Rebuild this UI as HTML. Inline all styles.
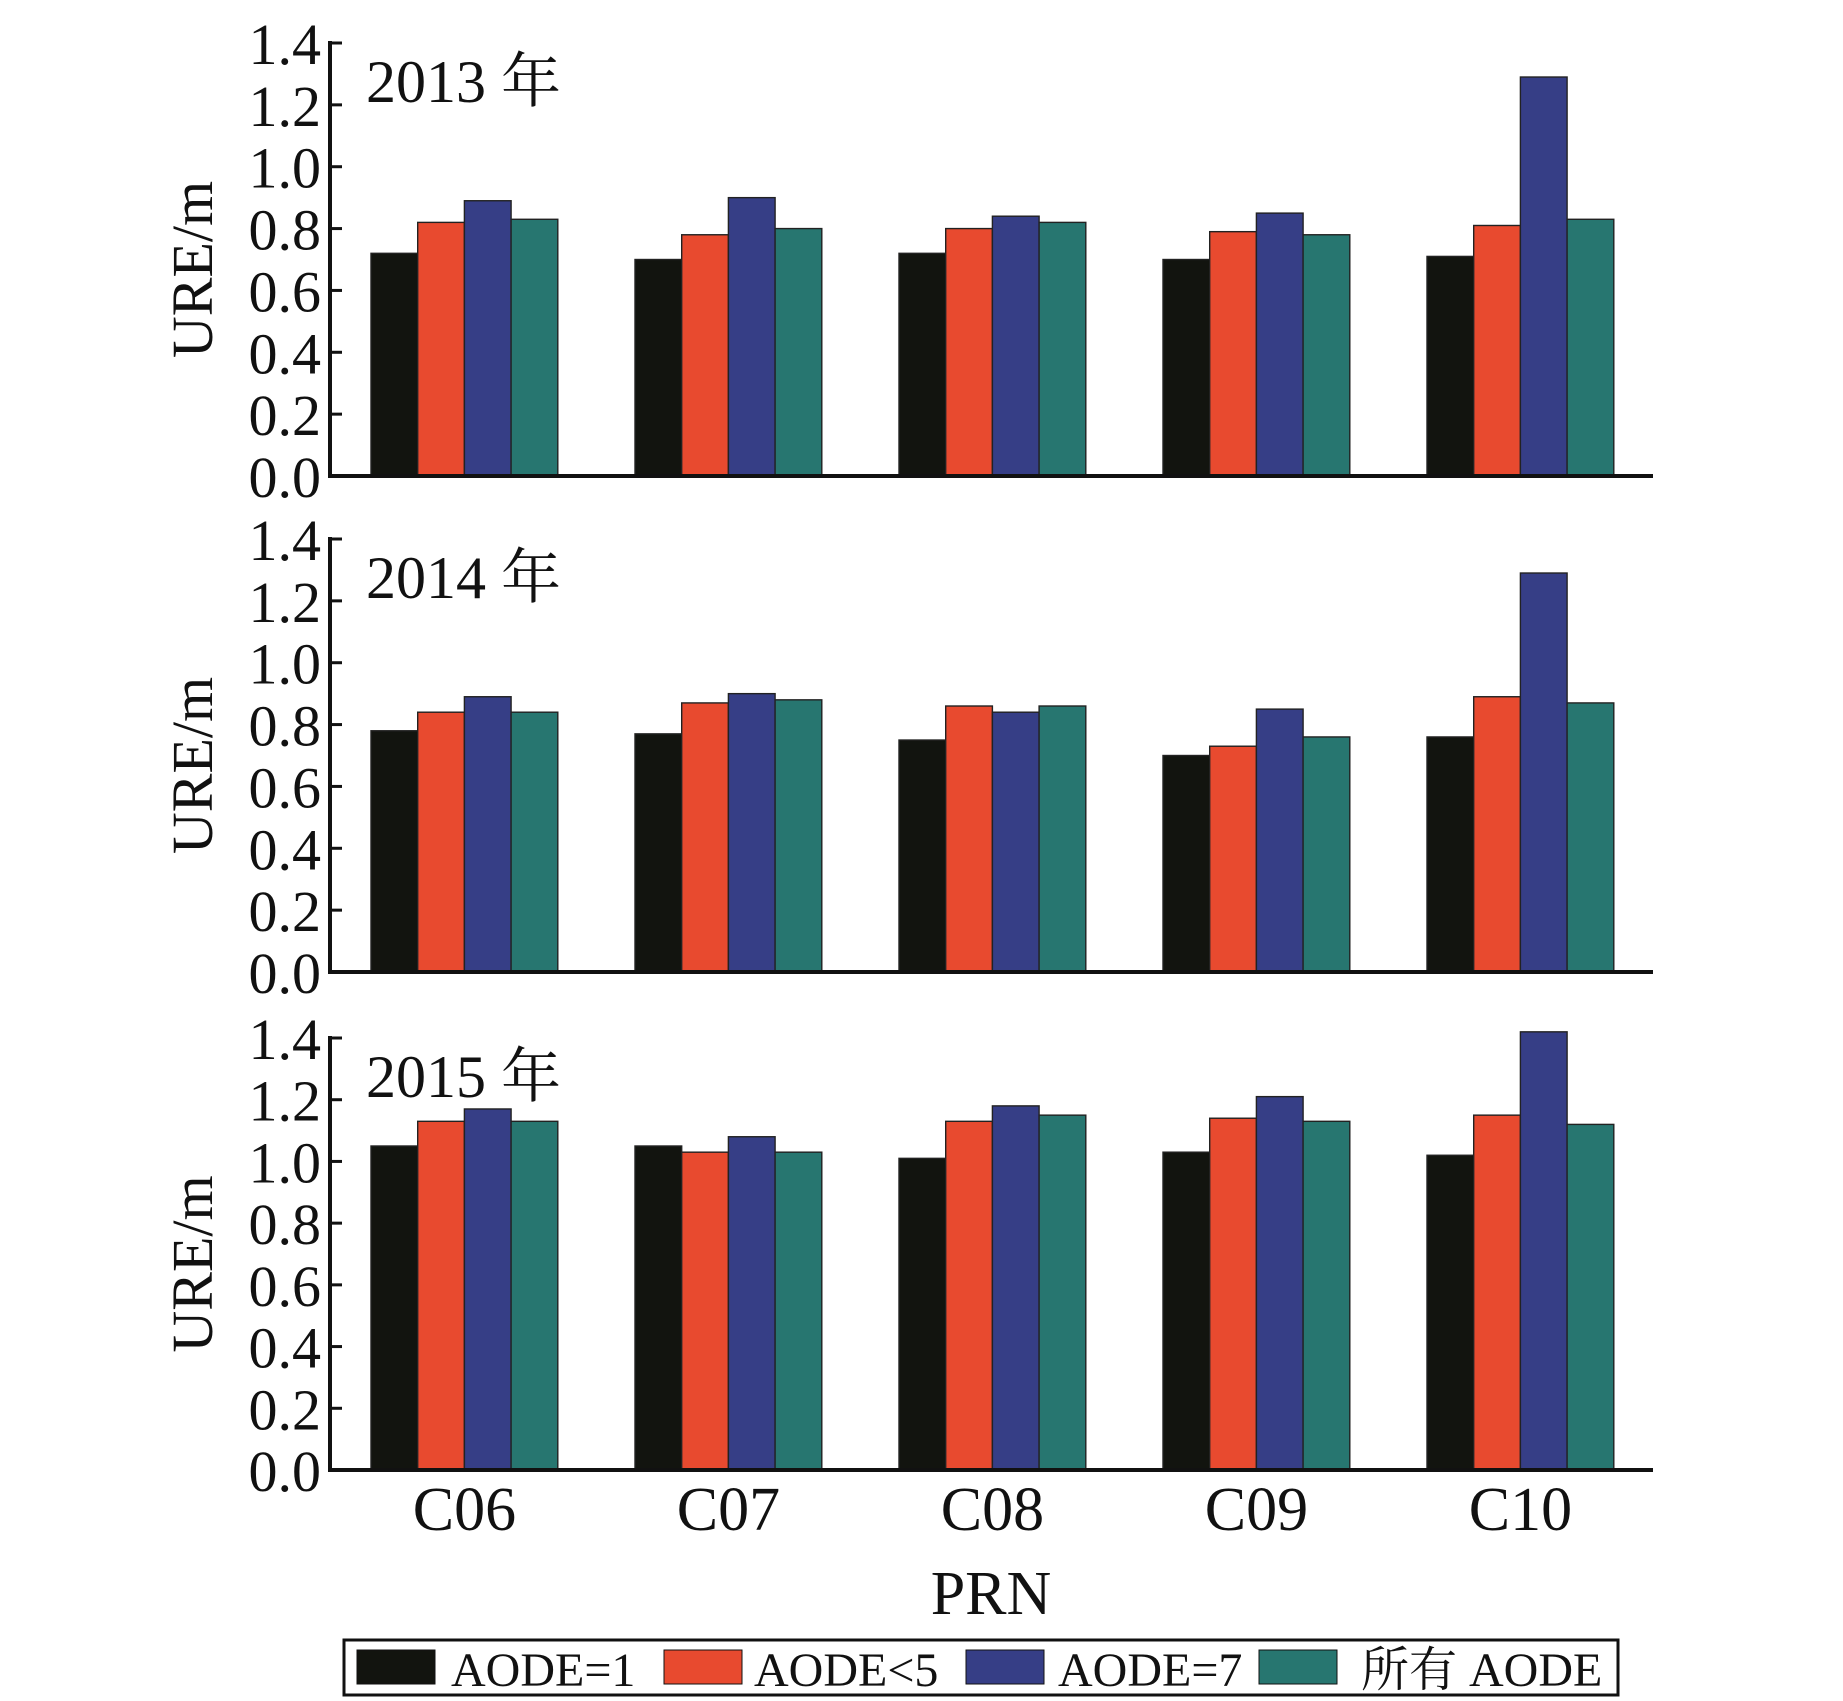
<!DOCTYPE html>
<html><head><meta charset="utf-8"><style>
html,body{margin:0;padding:0;background:#fff;}
svg{display:block;}
text{font-family:"Liberation Serif","Noto Serif CJK SC",serif;fill:#111;}
</style></head><body>
<svg id="chart" width="1843" height="1701" viewBox="0 0 1843 1701" xmlns="http://www.w3.org/2000/svg"></svg>
<script>
const categories = ["C06","C07","C08","C09","C10"];
const seriesNames = ["AODE=1","AODE<5","AODE=7","所有 AODE"];
const years = ["2013 年","2014 年","2015 年"];
const values2013 = [[0.72,0.82,0.89,0.83],[0.70,0.78,0.90,0.80],[0.72,0.80,0.84,0.82],[0.70,0.79,0.85,0.78],[0.71,0.81,1.29,0.83]];
const values2014 = [[0.78,0.84,0.89,0.84],[0.77,0.87,0.90,0.88],[0.75,0.86,0.84,0.86],[0.70,0.73,0.85,0.76],[0.76,0.89,1.29,0.87]];
const values2015 = [[1.05,1.13,1.17,1.13],[1.05,1.03,1.08,1.03],[1.01,1.13,1.18,1.15],[1.03,1.14,1.21,1.13],[1.02,1.15,1.42,1.12]];
const yTicks = [0,0.2,0.4,0.6,0.8,1.0,1.2,1.4];
const colors = ["#12140f","#e84a2f","#363e86","#277670"];
const allValues = [values2013, values2014, values2015];
const svg = document.getElementById('chart');
const NS = "http://www.w3.org/2000/svg";
function mk(tag, attrs, parent){const e=document.createElementNS(NS,tag);for(const k in attrs)e.setAttribute(k,attrs[k]);(parent||svg).appendChild(e);return e;}
const xLeft=330, xRight=1653, yMax=1.4;
const bottoms=[476,972,1470], tops=[43,539,1038];
const groupStart=371, groupStep=264, barW=46.7;
function xBar(ci,si){return groupStart+ci*groupStep+si*barW;}
allValues.forEach((vals,pi)=>{
  const y0=bottoms[pi], y1=tops[pi];
  const yScale=v=>y0-(v/yMax)*(y0-y1);
  const g=mk('g',{});
  
  
  vals.forEach((grp,ci)=>grp.forEach((v,si)=>{
    const r=mk('rect',{x:xBar(ci,si),y:yScale(v),width:barW,height:y0-yScale(v),fill:colors[si],stroke:'#222','stroke-width':1.4},g);
    
    
  }));
  yTicks.forEach(t=>{
    const y=yScale(t);
    mk('line',{x1:xLeft,x2:xLeft+12,y1:y,y2:y,stroke:'#111','stroke-width':3},g);
    const tx=mk('text',{x:321,y:y+21,'text-anchor':'end','font-size':58},g);
    tx.textContent=t.toFixed(1);
    
    
  });
  mk('line',{x1:xLeft,x2:xLeft,y1:y1-2,y2:y0+2,stroke:'#111','stroke-width':4},g);
  mk('line',{x1:xLeft,x2:xRight,y1:y0,y2:y0,stroke:'#111','stroke-width':4},g);
  const yl=mk('text',{x:0,y:0,'text-anchor':'middle','font-size':58,transform:`translate(212,${(y0+y1)/2+10}) rotate(-90)`},g);
  yl.textContent='URE/m';
  
  
  const yr=mk('text',{x:366,y:y1+59,'font-size':60},g);
  yr.textContent=years[pi];
  
  
});
categories.forEach((c,ci)=>{
  const t=mk('text',{x:groupStart+ci*groupStep+2*barW,y:1530,'text-anchor':'middle','font-size':62});
  t.textContent=c;
  
  
});
const xt=mk('text',{x:991,y:1614,'text-anchor':'middle','font-size':62});
xt.textContent='PRN';


const lg=mk('g',{});


mk('rect',{x:344,y:1640,width:1274,height:55,fill:'#fff',stroke:'#111','stroke-width':3},lg);
const lx=[357,664,966,1259], lt=[451,754,1058,1361];
seriesNames.forEach((n,i)=>{
  const e=mk('g',{},lg);
  
  
  mk('rect',{x:lx[i],y:1650,width:78,height:34,fill:colors[i],stroke:'#111','stroke-width':1},e);
  const t=mk('text',{x:lt[i],y:1686,'font-size':48},e);
  t.textContent=n;
});
</script>
</body></html>
